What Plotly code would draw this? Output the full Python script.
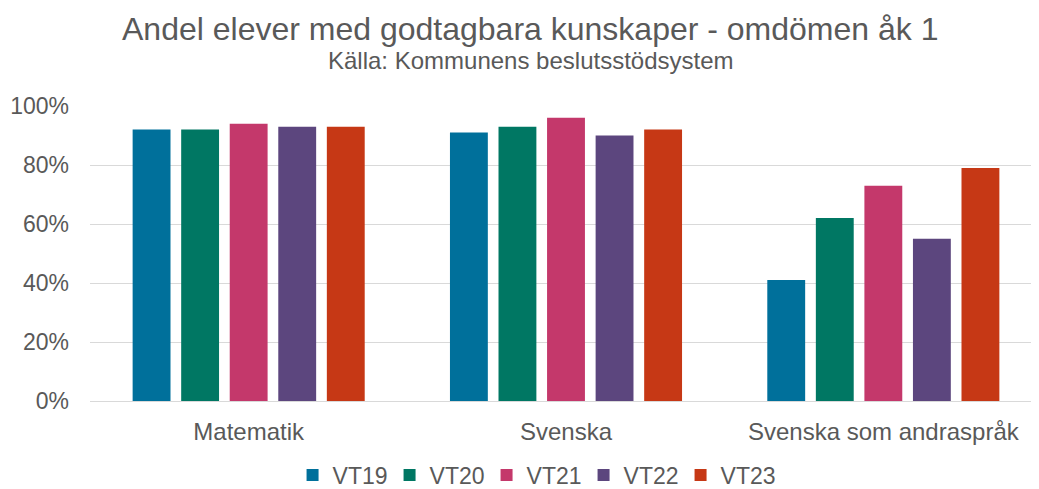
import plotly.graph_objects as go

categories = ["Matematik", "Svenska", "Svenska som andraspråk"]
series_names = ["VT19", "VT20", "VT21", "VT22", "VT23"]
vt19 = [0.92, 0.91, 0.41]
vt20 = [0.92, 0.93, 0.62]
vt21 = [0.94, 0.96, 0.73]
vt22 = [0.93, 0.90, 0.55]
vt23 = [0.93, 0.92, 0.79]
colors = ["#00709B", "#007763", "#C4386B", "#5C467E", "#C63815"]

fig = go.Figure()
for name, vals, c in zip(series_names, [vt19, vt20, vt21, vt22, vt23], colors):
    fig.add_trace(go.Bar(name=name, x=categories, y=vals, marker=dict(color=c, line=dict(width=0))))

font_fam = "Liberation Sans, Arial, sans-serif"
# page body has an 8px default margin, so the figure is sized/margined to compensate;
# the reference plot area runs slightly past the right edge of the picture
fig.update_layout(
    width=1034, height=489,
    barmode="group", bargap=0.235, bargroupgap=0.22,
    plot_bgcolor="white", paper_bgcolor="white",
    margin=dict(l=82, r=0, t=98, b=96, autoexpand=False),
    font=dict(family=font_fam, color="#595959", size=23),
    yaxis=dict(range=[0, 1.0], tickformat=".0%", dtick=0.2, gridcolor="#D9D9D9", gridwidth=1,
               zeroline=False, ticks="", tickfont=dict(size=23, color="#595959"),
               ticklabelstandoff=20, automargin=False),
    xaxis=dict(showline=True, linecolor="#D9D9D9", linewidth=1, ticks="",
               tickfont=dict(size=24, color="#595959"), ticklabelstandoff=9, automargin=False),
    legend=dict(orientation="h", x=0.4675, xanchor="center", y=-0.251, yanchor="middle",
                font=dict(size=23, color="#595959"), itemwidth=30, traceorder="normal",
                entrywidth=52, entrywidthmode="pixels"),
    annotations=[
        dict(text="Andel elever med godtagbara kunskaper - omdömen åk 1", xref="paper", yref="paper",
             x=0.462, y=1.0, yshift=77, xanchor="center", yanchor="middle", showarrow=False,
             font=dict(size=32, color="#595959", family=font_fam)),
        dict(text="Källa: Kommunens beslutsstödsystem", xref="paper", yref="paper",
             x=0.463, y=1.0, yshift=46, xanchor="center", yanchor="middle", showarrow=False,
             font=dict(size=24, color="#595959", family=font_fam)),
    ],
)
fig.write_html("out.html")
